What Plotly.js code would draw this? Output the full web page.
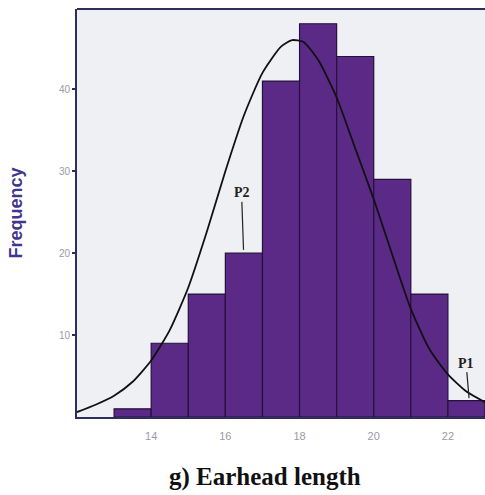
<!DOCTYPE html>
<html>
<head>
<meta charset="utf-8">
<script src="https://cdn.plot.ly/plotly-3.0.1.min.js"></script>
<style>html,body{margin:0;padding:0;background:#fff;}#chart{width:485px;height:495px;}</style>
</head>
<body>
<div id="chart"></div>
<script>
// Histogram bins (lower edges) and frequencies
const binStarts = [13, 14, 15, 16, 17, 18, 19, 20, 21, 22];
const frequencies = [1, 9, 15, 20, 41, 48, 44, 29, 15, 2];
// Fitted normal curve
const curveX = [12.0, 12.5, 13.0, 13.5, 14.0, 14.5, 15.0, 15.5, 16.0, 16.5, 17.0, 17.5, 17.8, 18.1, 18.5, 19.0, 19.5, 20.0, 20.5, 21.0, 21.5, 22.0, 22.5, 23.0];
const curveY = [0.6, 1.5, 2.6, 4.3, 6.9, 10.6, 15.8, 22.6, 30.0, 36.8, 42.0, 45.2, 46.0, 45.8, 43.6, 39.0, 32.8, 26.6, 19.8, 13.2, 8.3, 5.2, 3.1, 1.8];
const yTicks = [10, 20, 30, 40];
const xTicks = [14, 16, 18, 20, 22];
const xTitle = "g) Earhead length";
const yTitle = "Frequency";
const labels = [{text: "P2", x: 16.49, y: 20.4, ax: -2, ay: -57},
                {text: "P1", x: 22.57, y: 2.3, ax: -3, ay: -35}];

const binCenters = binStarts.map(b => b + 0.5);

const traces = [
  {
    type: "bar",
    x: binCenters,
    y: frequencies,
    width: 1,
    marker: {color: "#5a2a86", line: {color: "#26103c", width: 1.2}},
    hoverinfo: "skip"
  },
  {
    type: "scatter",
    mode: "lines",
    x: curveX,
    y: curveY,
    line: {color: "#111", width: 1.8, shape: "spline", smoothing: 0.6},
    hoverinfo: "skip"
  }
];

const annotations = labels.map(l => ({
  text: "<b>" + l.text + "</b>",
  x: l.x, y: l.y, xref: "x", yref: "y",
  ax: l.ax, ay: l.ay,
  showarrow: true, arrowhead: 0, arrowwidth: 1.2, arrowcolor: "#222",
  font: {family: "Liberation Serif, Times New Roman, serif", size: 14, color: "#222"}
}));
annotations.push({
  text: "<b>" + xTitle + "</b>",
  xref: "paper", yref: "paper", x: 0.46, y: -0.147,
  xanchor: "center", yanchor: "middle", showarrow: false,
  font: {family: "Liberation Serif, Times New Roman, serif", size: 25, color: "#111"}
});

const layout = {
  width: 485,
  height: 495,
  margin: {l: 77, r: 0, t: 9, b: 78},
  paper_bgcolor: "#ffffff",
  plot_bgcolor: "#eef0f4",
  showlegend: false,
  bargap: 0,
  font: {family: "Liberation Sans, Arial, sans-serif"},
  xaxis: {
    range: [12, 23],
    tickvals: xTicks,
    ticktext: xTicks.map(String),
    ticks: "",
    ticklabelstandoff: 8,
    showgrid: false,
    zeroline: false,
    showline: true,
    linecolor: "#2e2e5a",
    linewidth: 2,
    tickfont: {size: 11, color: "#9a9aa6"}
  },
  yaxis: {
    range: [0, 49.8],
    tickvals: yTicks,
    ticktext: yTicks.map(String),
    ticks: "outside",
    ticklen: 3,
    tickwidth: 2,
    tickcolor: "#2e2e5a",
    showgrid: false,
    zeroline: false,
    showline: true,
    linecolor: "#2e2e5a",
    linewidth: 2,
    tickfont: {size: 10, color: "#9a9aa6"},
    title: {
      text: "<b>" + yTitle + "</b>",
      font: {family: "Liberation Sans, Arial, sans-serif", size: 18, color: "#3f3690"},
      standoff: 32
    }
  },
  shapes: [
    {type: "line", xref: "paper", yref: "paper", x0: 0, x1: 1, y0: 1, y1: 1,
     line: {color: "#2e2e5a", width: 2}}
  ],
  annotations: annotations
};

Plotly.newPlot("chart", traces, layout, {displayModeBar: false, staticPlot: true});
</script>
</body>
</html>
